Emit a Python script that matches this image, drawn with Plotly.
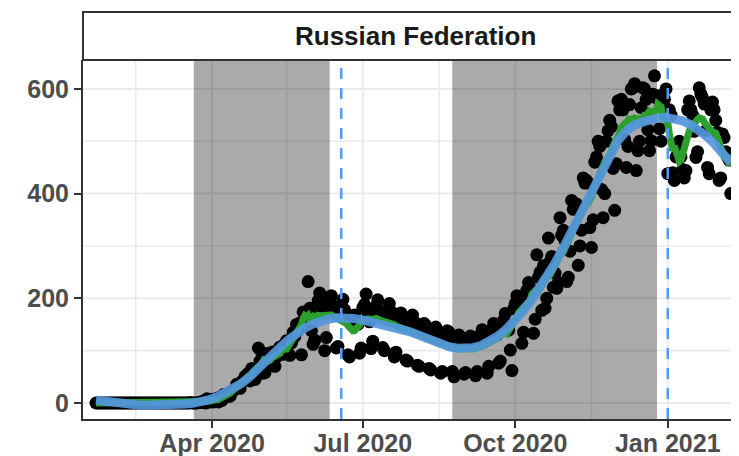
import numpy as np
import pandas as pd
import plotly.graph_objects as go

# ---------------- data ----------------
start_date = "2020-01-22"

deaths_jan2020 = [0, 0, 0, 0, 0, 0, 0, 0, 0, 0]
deaths_feb2020 = [0, 0, 0, 0, 0, 0, 0, 0, 0, 0, 0, 0, 0, 0, 0, 0, 0, 0, 0, 0,
                  0, 0, 0, 0, 0, 0, 0, 0, 0]
deaths_mar2020 = [0, 0, 0, 0, 0, 0, 0, 0, 0, 0, 0, 0, 0, 0, 0, 0, 0, 0,
                  1, 0, 0, 0, 0, 1, 2, 1, 4, 0, 8, 2, 2]
deaths_apr2020 = [7, 2, 4, 9, 2, 11, 5, 16, 13, 12, 18, 13, 22, 24, 28, 36, 34, 28,
                  41, 43, 51, 52, 57, 42, 66, 47, 45, 56, 105, 80]
deaths_may2020 = [96, 57, 58, 76, 95, 86, 88, 98, 70, 88, 94, 107, 96, 93, 113, 119,
                  94, 91, 115, 135, 127, 150, 139, 153, 92, 174, 161, 174, 232, 181, 138]
deaths_jun2020 = [112, 120, 178, 195, 210, 182, 175, 100, 125, 182, 198, 205, 185, 175,
                  105, 108, 172, 188, 198, 178, 170, 92, 88, 150, 162, 168, 155, 150,
                  95, 105]
deaths_jul2020 = [182, 188, 208, 172, 155, 104, 118, 180, 185, 197, 172, 173, 106, 100,
                  168, 180, 190, 175, 166, 88, 97, 162, 170, 172, 166, 160, 82, 80, 155,
                  158, 168]
deaths_aug2020 = [155, 147, 72, 70, 142, 150, 152, 148, 141, 66, 63, 135, 140, 145, 138,
                  132, 57, 60, 122, 133, 138, 135, 125, 60, 50, 116, 125, 130, 126, 114, 55]
deaths_sep2020 = [58, 120, 122, 128, 124, 114, 52, 60, 125, 130, 140, 130, 119, 57, 70,
                  130, 140, 152, 140, 130, 76, 80, 150, 158, 171, 150, 139, 101, 62, 180]
deaths_oct2020 = [190, 205, 200, 182, 114, 135, 202, 215, 230, 220, 214, 133, 160, 283,
                  240, 250, 177, 262, 181, 200, 315, 270, 280, 221, 248, 219, 230, 354,
                  320, 330, 310]
deaths_nov2020 = [232, 240, 290, 387, 370, 380, 380, 263, 300, 330, 430, 420, 425, 420,
                  335, 297, 350, 460, 470, 500, 490, 408, 354, 400, 500, 520, 540, 528,
                  448, 368]
deaths_dec2020 = [457, 577, 560, 580, 560, 503, 450, 490, 570, 600, 602, 610, 444, 482,
                  500, 564, 602, 600, 580, 522, 482, 501, 590, 625, 583, 587, 524, 500,
                  587, 580, 600]
deaths_jan2021 = [438, 560, 550, 440, 425, 470, 490, 500, 470, 446, 430, 444, 560, 577,
                  560, 550, 519, 469, 480, 602, 590, 583, 571, 520, 450, 438, 560, 575,
                  560, 540, 517]
deaths_feb2021 = [425, 430, 514, 507, 480, 470, 464, 400]

lockdown_starts = ["2020-03-21", "2020-08-24"]
lockdown_ends = ["2020-06-11", "2020-12-25 12:00"]
event_dates = ["2020-06-18", "2021-01-01"]

x_tick_vals = ["2020-04-01", "2020-07-01", "2020-10-01", "2021-01-01"]
x_tick_text = ["Apr 2020", "Jul 2020", "Oct 2020", "Jan 2021"]
x_minor_vals = ["2020-02-15", "2020-05-16", "2020-08-16", "2020-11-16"]
y_tick_vals = [0, 200, 400, 600]
y_minor_vals = [100, 300, 500]
panel_title = "Russian Federation"

# ---------------- derived ----------------
deaths = (deaths_jan2020 + deaths_feb2020 + deaths_mar2020 + deaths_apr2020 +
          deaths_may2020 + deaths_jun2020 + deaths_jul2020 + deaths_aug2020 +
          deaths_sep2020 + deaths_oct2020 + deaths_nov2020 + deaths_dec2020 +
          deaths_jan2021 + deaths_feb2021)
dates = pd.date_range(start_date, periods=len(deaths), freq="D")
s = pd.Series(deaths, index=dates, dtype=float)
roll7 = s.rolling(7, center=True, min_periods=1).mean()


def loess(xv, yv, span, xs):
    n = len(xv)
    q = int(np.floor(n * span))
    out = []
    for x0 in xs:
        d = np.abs(xv - x0)
        h = np.sort(d)[q - 1]
        w = np.clip(1 - (d / h) ** 3, 0, None) ** 3
        m = w > 0
        c = np.polyfit(xv[m] - x0, yv[m], 2, w=np.sqrt(w[m]))
        out.append(c[-1])
    return np.array(out)


xnum = np.arange(len(deaths), dtype=float)
xs = np.linspace(0, len(deaths) - 1, 80)
smooth = loess(xnum, np.array(deaths, dtype=float), 0.3, xs)
smooth_dates = dates[0] + pd.to_timedelta(xs, unit="D")

# ---------------- figure ----------------
# page body has an 8px margin: the figure occupies page pixels 8..739 x 8..456
W, H = 731, 448
ML, MT, MB = 75, 52, 37
plot_h = H - MT - MB
plot_w = W - ML

fig = go.Figure()
fig.add_trace(go.Scatter(x=dates, y=deaths, mode="markers",
                         marker=dict(color="black", size=13, line=dict(width=0)),
                         hoverinfo="skip", showlegend=False))
fig.add_trace(go.Scatter(x=dates, y=roll7, mode="lines",
                         line=dict(color="#2CA02C", width=7),
                         hoverinfo="skip", showlegend=False))
fig.add_trace(go.Scatter(x=smooth_dates, y=smooth, mode="lines",
                         line=dict(color="rgba(82,150,220,0.92)", width=9),
                         hoverinfo="skip", showlegend=False))

grid = "#EBEBEB"
# gridlines drawn as shapes so that the translucent bands sit on top of them
for v in x_tick_vals:
    fig.add_shape(type="line", xref="x", yref="paper", x0=v, x1=v, y0=0, y1=1,
                  line=dict(color=grid, width=2), layer="below")
for v in x_minor_vals:
    fig.add_shape(type="line", xref="x", yref="paper", x0=v, x1=v, y0=0, y1=1,
                  line=dict(color=grid, width=1.6), layer="below")
for v in y_tick_vals:
    fig.add_shape(type="line", xref="paper", yref="y", x0=0, x1=1, y0=v, y1=v,
                  line=dict(color=grid, width=2), layer="below")
for v in y_minor_vals:
    fig.add_shape(type="line", xref="paper", yref="y", x0=0, x1=1, y0=v, y1=v,
                  line=dict(color=grid, width=1.6), layer="below")

for a, b in zip(lockdown_starts, lockdown_ends):
    fig.add_shape(type="rect", xref="x", yref="paper", x0=a, x1=b, y0=0, y1=1,
                  fillcolor="rgba(0,0,0,0.333)", line=dict(width=0), layer="below")
for d in event_dates:
    fig.add_shape(type="line", xref="x", yref="paper", x0=d, x1=d, y0=0, y1=1,
                  line=dict(color="#5599FF", width=2.5, dash="11px,9px"), layer="above")

strip_top = 1 + 48 / plot_h
fig.add_shape(type="rect", xref="paper", yref="paper", x0=0, x1=1.05, y0=1, y1=strip_top,
              fillcolor="white", line=dict(color="#333333", width=2))
fig.add_annotation(text=panel_title, xref="paper", yref="paper",
                   x=(415 - 83) / plot_w, y=(1 + strip_top) / 2,
                   showarrow=False, xanchor="center", yanchor="middle",
                   font=dict(family="Liberation Sans", size=26, color="#1A1A1A", weight="bold"))

fig.update_layout(
    width=W, height=H,
    margin=dict(l=ML, r=0, t=MT, b=MB, autoexpand=False),
    paper_bgcolor="white", plot_bgcolor="white",
    showlegend=False,
    xaxis=dict(
        type="date", range=["2020-01-14 04:00", "2021-02-13"],
        tickvals=x_tick_vals, ticktext=x_tick_text,
        showgrid=False,
        showline=True, linecolor="#333333", linewidth=2,
        ticks="outside", ticklen=7, tickwidth=2, tickcolor="#333333",
        ticklabelstandoff=-6,
        tickfont=dict(family="Liberation Sans", size=25, color="#4D4D4D", weight="bold"),
        zeroline=False, fixedrange=True,
    ),
    yaxis=dict(
        range=[-30.6, 655.2],
        tickvals=y_tick_vals,
        showgrid=False,
        showline=True, linecolor="#333333", linewidth=2,
        ticks="outside", ticklen=7, tickwidth=2, tickcolor="#333333",
        tickfont=dict(family="Liberation Sans", size=25, color="#4D4D4D", weight="bold"),
        zeroline=False, fixedrange=True,
    ),
)

fig.write_html("out.html")
